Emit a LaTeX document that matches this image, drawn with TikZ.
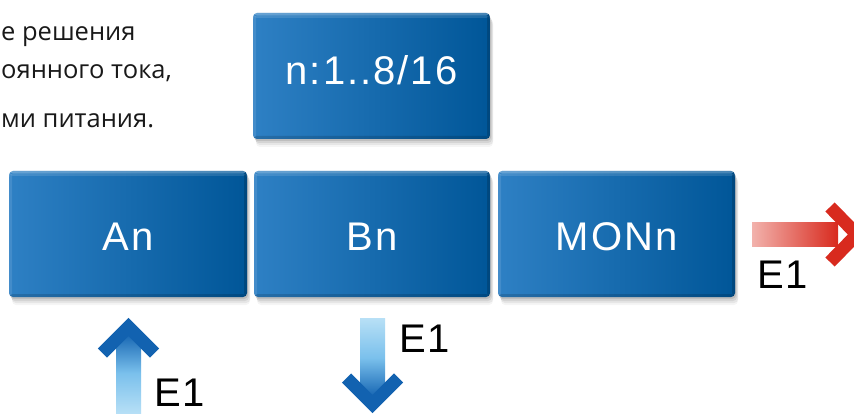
\documentclass[tikz,border=0pt]{standalone}
\usepackage{fontspec}
\setmainfont{Liberation Sans}
\newfontfamily\boxfont[LetterSpace=5]{Liberation Sans}
\newfontfamily\rufont{Open Sans}
\definecolor{boxL}{RGB}{46,128,196}
\definecolor{boxR}{RGB}{0,86,152}
\definecolor{redL}{RGB}{242,178,172}
\definecolor{redR}{RGB}{216,42,30}
\definecolor{blueD}{RGB}{18,98,176}
\definecolor{blueM}{RGB}{122,192,236}
\definecolor{blueL}{RGB}{184,224,246}
\definecolor{txt}{RGB}{25,25,25}
\tikzset{
  bbox/.style={rounded corners=4pt, minimum height=126pt, inner sep=0pt,
    left color=boxL, right color=boxR, text=white,
    font=\boxfont\fontsize{40}{44}\selectfont,
    preaction={fill=black, fill opacity=0.10, transform canvas={shift={(1pt,-2pt)}}},
    preaction={fill=black, fill opacity=0.08, transform canvas={shift={(2pt,-4pt)}}},
    preaction={fill=black, fill opacity=0.06, transform canvas={shift={(3pt,-6pt)}}},
    preaction={fill=black, fill opacity=0.04, transform canvas={shift={(3pt,-8pt)}}},
    path picture={
      \fill[white,opacity=.28] (path picture bounding box.north west) rectangle ([yshift=-2.5pt]path picture bounding box.north east);
      \fill[white,opacity=.12] ([yshift=-2.5pt]path picture bounding box.north west) rectangle ([yshift=-5pt]path picture bounding box.north east);
      \fill[white,opacity=.10] (path picture bounding box.north west) rectangle ([xshift=3pt]path picture bounding box.south west);
      \fill[black,opacity=.16] ([xshift=-3pt]path picture bounding box.north east) rectangle (path picture bounding box.south east);
      \fill[black,opacity=.14] ([yshift=3pt]path picture bounding box.south west) rectangle (path picture bounding box.south east);
    }},
  rowtxt/.style={text height=34pt, text depth=0pt},
  elabel/.style={anchor=base west, inner sep=0pt, text depth=0pt, font=\boxfont\fontsize{40}{44}\selectfont, text=black},
  rutxt/.style={anchor=base west, inner sep=0pt, font=\rufont\fontsize{25.5}{30}\selectfont, text=txt},
  chev/.style={line width=13pt, line join=miter, line cap=butt}
}
\begin{document}
\begin{tikzpicture}[x=1pt,y=-1pt]
\useasboundingbox (0,0) rectangle (854,414);
\clip (0,0) rectangle (854,414);
\fill[white] (0,0) rectangle (854,414);

% text top-left
\node[rutxt] (t1) at (1,41) {е решения};
\node[rutxt] (t2) at (1,79) {оянного тока,};
\node[rutxt] (t3) at (1,128) {ми питания.};

% boxes
\node[bbox, minimum width=237pt, text height=18pt, text depth=0pt] (n) at (371.5,76) {n:1..8/16};
\node[bbox, rowtxt, minimum width=238pt] (a) at (128,234) {An};
\node[bbox, rowtxt, minimum width=236pt] (b) at (372,234) {Bn};
\node[bbox, rowtxt, minimum width=237pt] (m) at (616.5,234) {MONn};

% red arrow right
\coordinate (r1) at (752,222.5);
\coordinate (r2) at (838,246.5);
\fill[left color=redL, right color=redR] (r1) rectangle (r2);
\draw[chev, redR] (830,207) -- (857,234.5) -- (830,262);
\node[elabel] (e1) at (757,288) {E1};

% up arrow
\coordinate (u1) at (116,332);
\coordinate (u2) at (141,414);
\shade[top color=blueD, bottom color=blueL, middle color=blueM] (u1) rectangle (u2);
\draw[chev, blueD] (102.5,353) -- (128.5,327) -- (154.5,353);
\node[elabel] (e2) at (154,406) {E1};

% down arrow
\coordinate (d1) at (360,318);
\coordinate (d2) at (385,398);
\shade[top color=blueL, bottom color=blueD, middle color=blueM] (d1) rectangle (d2);
\draw[chev, blueD] (346.5,378) -- (372.5,404) -- (398.5,378);
\node[elabel] (e3) at (399,352) {E1};
\end{tikzpicture}
\end{document}
